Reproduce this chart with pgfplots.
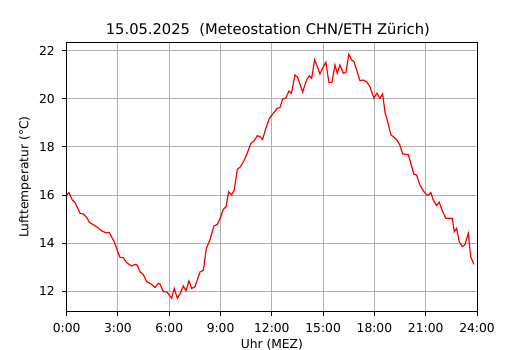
\documentclass[border=0pt]{standalone}
\usepackage{pgfplots}
\pgfplotsset{compat=1.18}
\usepackage{fontspec}
\setmainfont{DejaVu Sans}
\definecolor{gridgray}{HTML}{B0B0B0}
\begin{document}
\begin{tikzpicture}
\path[use as bounding box] (-66.7bp,-38.3bp) rectangle (463.3bp,311.7bp);
\begin{axis}[
  at={(0,0)}, anchor=south west,
  scale only axis, width=410.3bp, height=269.4bp,
  xmin=0, xmax=24, ymin=11.14, ymax=22.36,
  xtick={0,3,...,24},
  xticklabels={0:00,3:00,6:00,9:00,12:00,15:00,18:00,21:00,24:00},
  ytick={12,14,...,22},
  grid=major,
  major grid style={gridgray, line width=1bp},
  axis line style={black, line width=1bp},
  tick align=outside,
  tick pos=left,
  major tick length=4.3bp,
  tick style={black, line width=1bp},
  /pgf/number format/assume math mode=true,
  ticklabel style={font=\fontsize{12.3bp}{14bp}\selectfont},
  xticklabel style={anchor=base, inner sep=0pt, yshift=-16.7bp},
  yticklabel style={anchor=east, inner sep=0pt, xshift=-7.4bp},
  title={15.05.2025\ \ (Meteostation CHN/ETH Zürich)},
  title style={at={(axis description cs:0.5,1)}, anchor=base, inner sep=0pt, yshift=1.98bp, xshift=-4bp, font=\fontsize{14.7bp}{17bp}\selectfont},
  xlabel={Uhr (MEZ)},
  xlabel style={at={(axis description cs:0.5,0)}, anchor=base, inner sep=0pt, yshift=-36.4bp, font=\fontsize{12.3bp}{14bp}\selectfont},
  ylabel={Lufttemperatur (°C)},
  ylabel style={at={(axis description cs:0,0.5)}, anchor=center, inner sep=0pt, yshift=41.7bp, font=\fontsize{12.3bp}{14bp}\selectfont},
]
\addplot[red, line width=1.2bp, mark=none] coordinates {
(0.00,16.00) (0.13,16.10) (0.33,15.79) (0.48,15.70) (0.78,15.24) (0.97,15.21)
(1.17,15.07) (1.33,14.86) (1.75,14.68) (2.04,14.51) (2.28,14.43) (2.49,14.44)
(2.78,14.05) (3.02,13.57) (3.12,13.40) (3.31,13.39) (3.51,13.18) (3.80,13.04)
(3.99,13.11) (4.13,13.08) (4.29,12.80) (4.48,12.69) (4.68,12.39) (4.97,12.28)
(5.16,12.15) (5.36,12.32) (5.46,12.29) (5.65,11.97) (5.85,11.97) (6.14,11.70)
(6.29,12.11) (6.47,11.70) (6.62,11.88) (6.82,12.21) (6.98,12.01) (7.15,12.42)
(7.31,12.11) (7.50,12.18) (7.80,12.80) (7.99,12.86) (8.17,13.78) (8.38,14.13)
(8.61,14.71) (8.81,14.78) (8.97,15.03) (9.16,15.40) (9.32,15.51) (9.47,16.13)
(9.65,16.00) (9.80,16.21) (9.98,17.07) (10.17,17.18) (10.37,17.43) (10.56,17.74)
(10.76,18.13) (10.96,18.26) (11.15,18.47) (11.31,18.43) (11.46,18.32) (11.65,18.78)
(11.85,19.19) (12.05,19.37) (12.32,19.61) (12.48,19.65) (12.63,20.00) (12.81,20.03)
(13.00,20.33) (13.15,20.24) (13.35,21.00) (13.51,20.90) (13.80,20.29) (14.03,20.79)
(14.19,20.97) (14.33,20.86) (14.50,21.63) (14.66,21.35) (14.81,21.04) (14.97,21.28)
(15.16,21.53) (15.34,20.68) (15.51,20.68) (15.69,21.42) (15.83,21.07) (15.98,21.42)
(16.18,21.07) (16.33,21.10) (16.50,21.86) (16.66,21.63) (16.80,21.56) (16.96,21.21)
(17.15,20.76) (17.35,20.79) (17.54,20.72) (17.74,20.51) (17.97,20.03) (18.15,20.24)
(18.32,20.03) (18.48,20.21) (18.62,19.43) (18.77,19.06) (18.97,18.50) (19.16,18.40)
(19.34,18.26) (19.49,18.08) (19.65,17.71) (19.98,17.68) (20.14,17.29) (20.31,16.86)
(20.47,16.83) (20.66,16.42) (20.86,16.18) (21.05,16.00) (21.17,16.00) (21.30,16.10)
(21.44,15.79) (21.64,15.56) (21.79,15.70) (21.99,15.31) (22.18,15.03) (22.55,15.03)
(22.67,14.47) (22.81,14.61) (22.96,14.05) (23.14,13.85) (23.29,13.92) (23.49,14.40)
(23.63,13.43) (23.82,13.11)
};
\end{axis}
\end{tikzpicture}
\end{document}
